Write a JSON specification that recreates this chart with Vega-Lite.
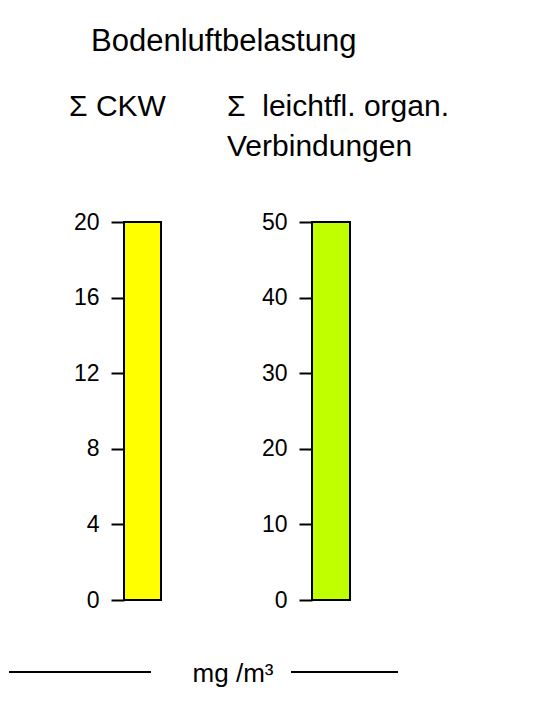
{
  "$schema": "https://vega.github.io/schema/vega-lite/v6.json",
  "padding": {"left": 8, "top": 26, "right": 5, "bottom": 5},
  "background": "white",
  "title": {"text": "Bodenluftbelastung", "anchor": "start", "dx": 83, "fontSize": 31, "offset": 34},
  "bounds": "flush",
  "spacing": 448,
  "vconcat": [
    {
      "bounds": "flush",
      "spacing": 20,
      "hconcat": [
        {
          "width": 95, "height": 378,
          "data": {"values": []},
          "mark": "point",
          "encoding": {}
        },
        {
          "width": 37, "height": 378,
          "title": {"text": ["Σ CKW", " "], "anchor": "start", "frame": "group", "dx": -55},
          "data": {"values": [{"gruppe": "Σ CKW", "wert": 20}]},
          "mark": {"type": "bar", "color": "#FFFF00", "stroke": "black", "strokeWidth": 2},
          "encoding": {
            "x": {"field": "gruppe", "type": "nominal", "axis": null, "scale": {"paddingInner": 0, "paddingOuter": 0}},
            "y": {"field": "wert", "type": "quantitative", "scale": {"domain": [0, 20]}, "axis": {"values": [0, 4, 8, 12, 16, 20]}}
          }
        },
        {
          "width": 111, "height": 378,
          "data": {"values": []},
          "mark": "point",
          "encoding": {}
        },
        {
          "width": 38, "height": 378,
          "title": {"text": ["Σ\u00a0 leichtfl. organ.", "Verbindungen"], "anchor": "start", "frame": "group", "dx": -85},
          "data": {"values": [{"gruppe": "Σ leichtfl. organ. Verbindungen", "wert": 50}]},
          "mark": {"type": "bar", "color": "#C0FF00", "stroke": "black", "strokeWidth": 2},
          "encoding": {
            "x": {"field": "gruppe", "type": "nominal", "axis": null, "scale": {"paddingInner": 0, "paddingOuter": 0}},
            "y": {"field": "wert", "type": "quantitative", "scale": {"domain": [0, 50]}, "axis": {"values": [0, 10, 20, 30, 40, 50]}}
          }
        }
      ]
    },
    {
      "bounds": "flush",
      "spacing": 20,
      "hconcat": [
        {
          "width": 142, "height": 2,
          "data": {"values": [{"linie": "links"}]},
          "mark": {"type": "rule", "color": "black", "strokeWidth": 2},
          "encoding": {"y": {"datum": 0, "type": "quantitative", "scale": {"domain": [0, 1]}, "axis": null}}
        },
        {
          "width": 100, "height": 2,
          "data": {"values": [{"einheit": "mg /m³"}]},
          "mark": {"type": "text", "fontSize": 26, "baseline": "middle", "dx": 12, "dy": 3},
          "encoding": {"text": {"field": "einheit", "type": "nominal"}}
        },
        {
          "width": 107, "height": 2,
          "data": {"values": [{"linie": "rechts"}]},
          "mark": {"type": "rule", "color": "black", "strokeWidth": 2},
          "encoding": {"y": {"datum": 0, "type": "quantitative", "scale": {"domain": [0, 1]}, "axis": null}}
        }
      ]
    }
  ],
  "config": {
    "font": "Liberation Sans",
    "view": {"stroke": null},
    "title": {"font": "Liberation Sans", "fontSize": 30, "fontWeight": "normal", "color": "black", "lineHeight": 40, "offset": 49},
    "text": {"font": "Liberation Sans", "color": "black"},
    "axis": {
      "labelFont": "Liberation Sans", "labelFontSize": 23, "labelColor": "black",
      "tickColor": "black", "tickWidth": 2, "tickSize": 13, "labelPadding": 12,
      "domainColor": "black", "domainWidth": 2, "grid": false, "title": null
    }
  }
}
